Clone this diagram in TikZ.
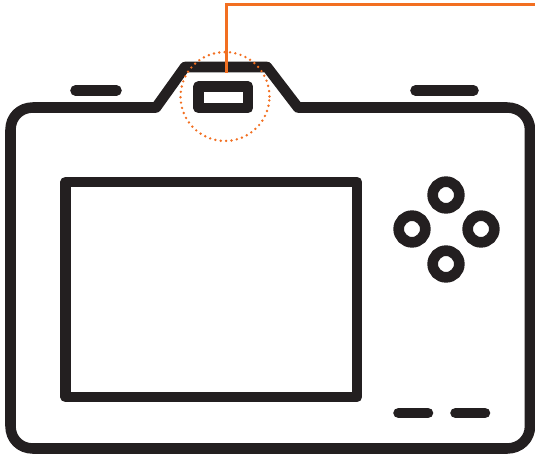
\documentclass[tikz,border=0pt]{standalone}
\definecolor{ink}{HTML}{231F20}
\definecolor{orng}{HTML}{F26F21}
\tikzset{
 x=0.75pt,y=-0.75pt,
 thick ink/.style={draw=ink,line width=7.9pt,line join=round,line cap=round},
 ring/.style={circle,draw=ink,line width=8pt,minimum size=20pt,inner sep=0pt},
}
\begin{document}
\begin{tikzpicture}
\useasboundingbox (0,0) rectangle (535,457);
\path[thick ink] (156,107.5) -- (33,107.5) .. controls (20,107.5) and (10.5,117) .. (10.5,130) -- (10.5,426) .. controls (10.5,439) and (20,448.5) .. (33,448.5) -- (507,448.5) .. controls (520,448.5) and (530,439) .. (530,426) -- (530,130) .. controls (530,117) and (520,107.5) .. (507,107.5) -- (298,107.5) -- (267,67) -- (185,67) -- (156,107.5) -- cycle;
\path[thick ink] (198.5,86.5) rectangle (248,108);
\path[thick ink] (65.5,182) rectangle (357,397);
\path[thick ink] (75.5,90.5) -- (116.5,90.5);
\path[thick ink] (415.5,90.5) -- (473.5,90.5);
\path[thick ink] (398.5,413) -- (428,413);
\path[thick ink] (455.5,413) -- (485,413);
\node[ring] (r1) at (446,195) {};
\node[ring] (r2) at (412,229) {};
\node[ring] (r3) at (481,229) {};
\node[ring] (r4) at (446,264) {};
\coordinate (c) at (225,96.5);
\node[circle,draw=orng,line width=2pt,line cap=round,dash pattern=on 0pt off 4.05pt,minimum size=66.7pt,inner sep=0pt] (view) at (c) {};
\coordinate (e) at (535,4.5);
\coordinate (k) at (226.7,4.5);
\coordinate (s) at (226.7,73);
\draw[orng,line width=2.1pt] (e) -- (k) -- (s);
\end{tikzpicture}
\end{document}
